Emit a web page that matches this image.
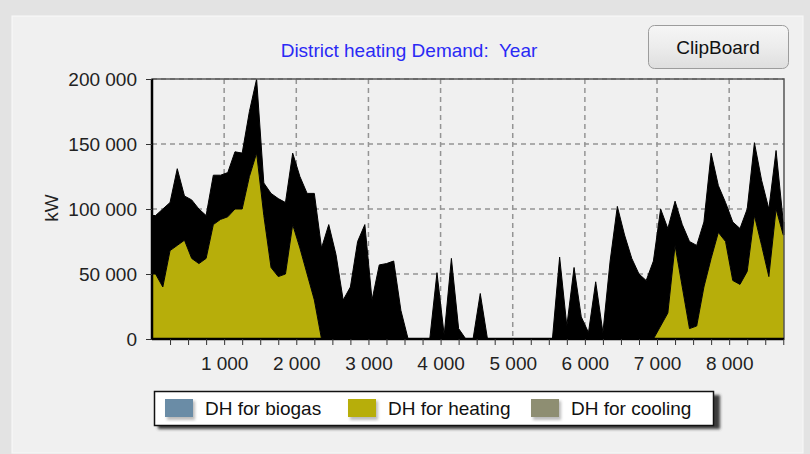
<!DOCTYPE html>
<html lang="en">
  <head>
    <meta charset="utf-8" />
    <title>District heating Demand: Year</title>
    <script src="https://cdn.jsdelivr.net/npm/d3@7"></script>
    <style>
      body { margin: 0; background: #e3e3e3; }
      svg { display: block; font-family: "Liberation Sans", Arial, sans-serif; }
    </style>
  </head>
  <body>
    <div id="root"></div>

    <script type="text/javascript">
      /************************************
       * data
       ************************************/

      // one value per 100 hours block, in kW
      const stepHours = 100;
      const hoursInYear = 8760;

      // top of the hourly spread (black band)
      const heatingHigh = [
        95000, 100000, 105000, 131000, 110000, 107000, 100000, 95000, 126000, 126000,
        128000, 144000, 143000, 175000, 200000, 120000, 112000, 108000, 105000, 143000,
        125000, 112000, 112000, 70000, 88000, 65000, 30000, 40000, 75000, 88000,
        30000, 57000, 58000, 60000, 22000, 0, 0, 0, 0, 51000,
        3000, 62000, 8000, 0, 0, 35000, 0, 0, 0, 0,
        0, 0, 0, 0, 0, 0, 63000, 10000, 55000, 17000,
        5000, 44000, 5000, 60000, 102000, 80000, 62000, 50000, 45000, 60000,
        100000, 85000, 106000, 88000, 75000, 72000, 90000, 143000, 118000, 105000,
        90000, 85000, 100000, 151000, 122000, 100000, 145000, 90000
      ];

      // bottom of the hourly spread (yellow fill)
      const heatingLow = [
        50000, 40000, 68000, 72000, 76000, 62000, 58000, 62000, 88000, 92000,
        94000, 100000, 100000, 125000, 143000, 95000, 55000, 48000, 50000, 88000,
        70000, 50000, 30000, 0, 0, 0, 0, 0, 0, 0,
        0, 0, 0, 0, 0, 0, 0, 0, 0, 0,
        0, 0, 0, 0, 0, 0, 0, 0, 0, 0,
        0, 0, 0, 0, 0, 0, 0, 0, 0, 0,
        0, 0, 0, 0, 0, 0, 0, 0, 0, 0,
        10000, 20000, 72000, 40000, 8000, 10000, 40000, 62000, 82000, 75000,
        45000, 42000, 52000, 95000, 72000, 48000, 100000, 80000
      ];

      const seriesNames = ["DH for biogas", "DH for heating", "DH for cooling"];
      const seriesColors = ["#6a8ca6", "#b7ae0a", "#8e8e72"];

      const yTicks = [0, 50000, 100000, 150000, 200000];
      const xTicks = [1000, 2000, 3000, 4000, 5000, 6000, 7000, 8000];

      // each value sits in the middle of its block; ends are held to the year edges
      const data = heatingHigh.map((high, i) => ({
        hour: i * stepHours + stepHours / 2,
        high: high,
        low: heatingLow[i],
      }));
      data.unshift({ hour: 0, high: heatingHigh[0], low: heatingLow[0] });
      data.push({
        hour: hoursInYear,
        high: heatingHigh[heatingHigh.length - 1],
        low: heatingLow[heatingLow.length - 1],
      });

      /**********************************
       * chart
       *************************************/

      const width = 810;
      const height = 454;
      const marginTop = 79;
      const marginRight = 26;
      const marginBottom = 115;
      const marginLeft = 152;

      const fmt = (v) => d3.format(",")(v).replace(/,/g, " ");

      const xScale = d3
        .scaleLinear()
        .domain([0, hoursInYear])
        .range([marginLeft, width - marginRight]);

      const yScale = d3
        .scaleLinear()
        .domain([0, 200000])
        .range([height - marginBottom, marginTop]);

      const svg = d3
        .select("#root")
        .append("svg")
        .attr("width", width)
        .attr("height", height);

      // panel
      svg
        .append("rect")
        .attr("x", 12)
        .attr("y", 16)
        .attr("width", 791)
        .attr("height", 437)
        .attr("fill", "#f0f0f0")
        .attr("stroke", "#f9f9f9");

      // title
      svg
        .append("text")
        .text("District heating Demand:  Year")
        .attr("x", 409)
        .attr("y", 57)
        .attr("text-anchor", "middle")
        .attr("fill", "#2a2af5")
        .style("font-size", "19px")
        .style("white-space", "pre");

      // clipboard button
      const defs = svg.append("defs");
      const grad = defs
        .append("linearGradient")
        .attr("id", "btn")
        .attr("x1", 0)
        .attr("y1", 0)
        .attr("x2", 0)
        .attr("y2", 1);
      grad.append("stop").attr("offset", "0%").attr("stop-color", "#f6f6f6");
      grad.append("stop").attr("offset", "50%").attr("stop-color", "#ececec");
      grad.append("stop").attr("offset", "100%").attr("stop-color", "#dedede");

      svg
        .append("rect")
        .attr("x", 648.5)
        .attr("y", 25.5)
        .attr("width", 140)
        .attr("height", 43)
        .attr("rx", 6)
        .attr("fill", "url(#btn)")
        .attr("stroke", "#9c9c9c");
      svg
        .append("text")
        .text("ClipBoard")
        .attr("x", 718)
        .attr("y", 54)
        .attr("text-anchor", "middle")
        .attr("fill", "#111")
        .style("font-size", "19px");

      // grid
      const grid = svg
        .append("g")
        .attr("stroke", "#949494")
        .attr("stroke-width", 1.5)
        .attr("stroke-dasharray", "5,4");
      grid
        .selectAll("line.gx")
        .data(xTicks)
        .join("line")
        .attr("x1", (d) => xScale(d))
        .attr("x2", (d) => xScale(d))
        .attr("y1", yScale(200000))
        .attr("y2", yScale(0));
      grid
        .selectAll("line.gy")
        .data(yTicks.slice(1))
        .join("line")
        .attr("class", "gy")
        .attr("x1", xScale(0))
        .attr("x2", xScale(hoursInYear))
        .attr("y1", (d) => yScale(d))
        .attr("y2", (d) => yScale(d));

      // heating area: yellow below the daily minimum, black band up to maximum
      svg
        .append("path")
        .datum(data)
        .attr("fill", seriesColors[1])
        .attr(
          "d",
          d3
            .area()
            .x((d) => xScale(d.hour))
            .y0(yScale(0))
            .y1((d) => yScale(d.low))
        );
      svg
        .append("path")
        .datum(data)
        .attr("fill", "#000")
        .attr("stroke", "#000")
        .attr("stroke-width", 1)
        .attr(
          "d",
          d3
            .area()
            .x((d) => xScale(d.hour))
            .y0((d) => yScale(d.low))
            .y1((d) => yScale(d.high))
        );

      // frame
      svg
        .append("rect")
        .attr("x", xScale(0))
        .attr("y", yScale(200000))
        .attr("width", xScale(hoursInYear) - xScale(0))
        .attr("height", yScale(0) - yScale(200000))
        .attr("fill", "none")
        .attr("stroke", "#555")
        .attr("stroke-width", 1.5);
      svg
        .append("line")
        .attr("x1", xScale(0))
        .attr("x2", xScale(0))
        .attr("y1", yScale(200000))
        .attr("y2", yScale(0))
        .attr("stroke", "#000")
        .attr("stroke-width", 2.5);
      svg
        .append("line")
        .attr("x1", xScale(0))
        .attr("x2", xScale(hoursInYear))
        .attr("y1", yScale(0))
        .attr("y2", yScale(0))
        .attr("stroke", "#000")
        .attr("stroke-width", 2.5);

      // x-axis
      const xAxis = svg
        .append("g")
        .attr("transform", `translate(0,${yScale(0)})`)
        .call(
          d3
            .axisBottom(xScale)
            .tickValues(d3.range(250, hoursInYear, 250))
            .tickSize(6)
            .tickPadding(12)
            .tickFormat((d) => (xTicks.includes(d) ? fmt(d) : ""))
        );
      xAxis.select(".domain").remove();
      xAxis.selectAll("line").attr("stroke", "#333");
      xAxis
        .selectAll("text")
        .attr("fill", "#222")
        .style("font-size", "19px")
        .style("font-family", "'Liberation Sans', Arial, sans-serif");

      // y-axis
      const yAxis = svg
        .append("g")
        .attr("transform", `translate(${xScale(0)},0)`)
        .call(
          d3
            .axisLeft(yScale)
            .tickValues(yTicks)
            .tickSize(6)
            .tickPadding(9)
            .tickFormat(fmt)
        );
      yAxis.select(".domain").remove();
      yAxis.selectAll("line").attr("stroke", "#333");
      yAxis
        .selectAll("text")
        .attr("fill", "#222")
        .style("font-size", "19px")
        .style("font-family", "'Liberation Sans', Arial, sans-serif");

      svg
        .append("text")
        .text("kW")
        .attr("transform", "translate(58,208) rotate(-90)")
        .attr("text-anchor", "middle")
        .attr("fill", "#222")
        .style("font-size", "19px");

      // legend
      const shadow = defs.append("filter").attr("id", "shadow");
      shadow.append("feGaussianBlur").attr("stdDeviation", 1.5);

      svg
        .append("rect")
        .attr("x", 158)
        .attr("y", 395)
        .attr("width", 562)
        .attr("height", 34)
        .attr("fill", "#3a3a3a")
        .attr("filter", "url(#shadow)");
      svg
        .append("rect")
        .attr("x", 154.5)
        .attr("y", 391.5)
        .attr("width", 559)
        .attr("height", 34)
        .attr("fill", "#fff")
        .attr("stroke", "#111")
        .attr("stroke-width", 1.5);

      const legendX = [165, 348, 531];
      const legendItem = svg
        .selectAll("g.legend")
        .data(seriesNames)
        .join("g")
        .attr("class", "legend")
        .attr("transform", (d, i) => `translate(${legendX[i]},399)`);
      legendItem
        .append("rect")
        .attr("x", 2)
        .attr("y", 2)
        .attr("width", 28)
        .attr("height", 19)
        .attr("fill", "#bbb")
        .attr("filter", "url(#shadow)");
      legendItem
        .append("rect")
        .attr("width", 28)
        .attr("height", 18)
        .attr("fill", (d, i) => seriesColors[i]);
      legendItem
        .append("text")
        .text((d) => d)
        .attr("x", 40)
        .attr("y", 16)
        .attr("fill", "#111")
        .style("font-size", "19px");
    </script>
  </body>
</html>
